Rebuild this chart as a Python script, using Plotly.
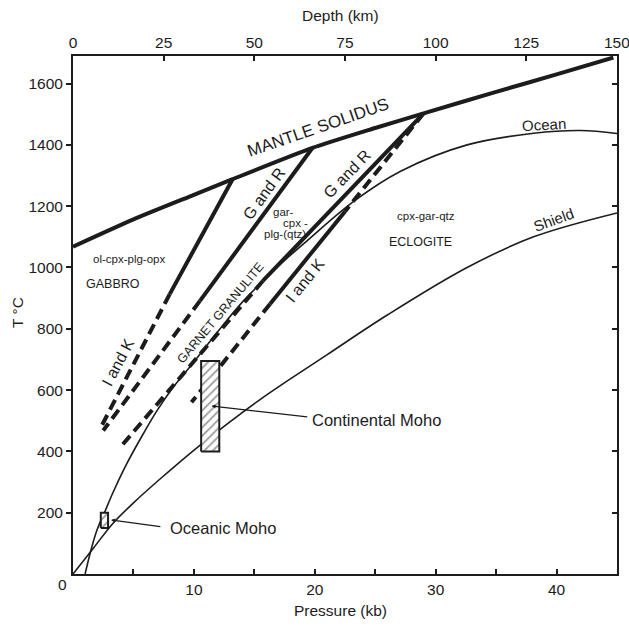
import plotly.graph_objects as go

# ---------------- data ----------------
# Mantle solidus (P kb, T degC)
sol_P = [0, 5, 10, 13.2, 19.8, 25, 29.0, 35, 40, 44.7]
sol_T = [1068, 1157, 1237, 1288, 1390, 1455, 1503, 1573, 1630, 1685]

# Oceanic geotherm
oc_P = [1.0, 1.5, 2.0, 2.6, 3.3, 4.45, 5.85, 6.95, 8.3, 10.0, 12.0, 14.1, 17.0, 19.5, 23.3, 27.1, 32.6, 38.1, 42.0, 45.0]
oc_T = [0, 80, 145, 200, 265, 360, 460, 533, 610, 692, 792, 891, 1005, 1092, 1218, 1314, 1400, 1438, 1447, 1437]

# Shield geotherm
sh_P = [0, 1.7, 3.3, 5.0, 7.2, 10.5, 15.5, 21.0, 26.0, 32.6, 38.1, 45.0]
sh_T = [0, 85, 165, 232, 310, 420, 570, 715, 845, 1000, 1100, 1178]

# Phase boundaries: solid (experimental) and dashed (extrapolated) parts
ik1_solid_P, ik1_solid_T = [13.2, 8.0], [1288, 913]
ik1_dash_P, ik1_dash_T = [8.0, 2.3], [913, 478]
gr1_solid_P, gr1_solid_T = [19.8, 10.5], [1390, 891]
gr1_dash_P, gr1_dash_T = [10.5, 2.5], [891, 468]
gr2_solid_P, gr2_solid_T = [29.0, 15.7], [1503, 956]
gr2_dash_P, gr2_dash_T = [15.7, 3.9], [956, 413]
ik2_top_P, ik2_top_T = [29.0, 22.5], [1503, 1183]
ik2_solid_P, ik2_solid_T = [22.5, 16.3], [1183, 881]
ik2_dash_P, ik2_dash_T = [16.3, 9.8], [881, 560]

# Moho boxes [Pmin, Pmax, Tmin, Tmax]
cont_moho = [10.6, 12.1, 400, 695]
ocean_moho = [2.3, 2.9, 150, 200]

# Leader lines (label end -> box)
cont_leader = [19.5, 512, 11.45, 548]
ocean_leader = [7.35, 154, 3.15, 176]

# Tick labels
x_ticks = [5, 10, 15, 20, 25, 30, 35, 40]
x_ticktext = ["", "10", "", "20", "", "30", "", "40"]
y_ticks = [200, 400, 600, 800, 1000, 1200, 1400, 1600]
depth_ticks = [0, 25, 50, 75, 100, 125, 150]

# ----------------------------------------------------------------
INK = "#1c1c1c"
FONT = "Liberation Sans, Arial, sans-serif"

fig = go.Figure()

def line(P, T, width, dash=None):
    fig.add_trace(go.Scatter(x=P, y=T, mode="lines",
                             line=dict(color=INK, width=width, dash=dash),
                             hoverinfo="skip", showlegend=False))

fig.add_trace(go.Scatter(x=sol_P, y=sol_T, mode="lines",
                         line=dict(color=INK, width=4, shape="spline", smoothing=0.6),
                         showlegend=False, hoverinfo="skip"))
fig.add_trace(go.Scatter(x=oc_P, y=oc_T, mode="lines",
                         line=dict(color=INK, width=1.6, shape="spline", smoothing=1.0),
                         showlegend=False, hoverinfo="skip"))
fig.add_trace(go.Scatter(x=sh_P, y=sh_T, mode="lines",
                         line=dict(color=INK, width=1.6, shape="spline", smoothing=1.0),
                         showlegend=False, hoverinfo="skip"))

DASH = "11px,6px"
line(ik1_solid_P, ik1_solid_T, 4)
line(ik1_dash_P, ik1_dash_T, 4, DASH)
line(gr1_solid_P, gr1_solid_T, 4)
line(gr1_dash_P, gr1_dash_T, 4, DASH)
line(gr2_solid_P, gr2_solid_T, 4)
line(gr2_dash_P, gr2_dash_T, 4, DASH)
line(ik2_top_P, ik2_top_T, 4, DASH)
line(ik2_solid_P, ik2_solid_T, 4)
line(ik2_dash_P, ik2_dash_T, 4, DASH)

for b in (cont_moho, ocean_moho):
    fig.add_trace(go.Scatter(
        x=[b[0], b[1], b[1], b[0], b[0]], y=[b[2], b[2], b[3], b[3], b[2]],
        mode="lines", fill="toself", fillcolor="rgba(0,0,0,0)",
        fillpattern=dict(shape="/", size=6, solidity=0.3, fgcolor="#333", bgcolor="white"),
        line=dict(color=INK, width=2), showlegend=False, hoverinfo="skip"))

# dummy traces for extra axes
fig.add_trace(go.Scatter(x=[0], y=[0], xaxis="x2", yaxis="y", mode="markers",
                         marker=dict(opacity=0), showlegend=False, hoverinfo="skip"))
fig.add_trace(go.Scatter(x=[0], y=[0], xaxis="x", yaxis="y3", mode="markers",
                         marker=dict(opacity=0), showlegend=False, hoverinfo="skip"))

ann = []
def txt(x, y, s, size=12, angle=0, xanchor="center"):
    ann.append(dict(x=x, y=y, xref="x", yref="y", text=s, showarrow=False,
                    textangle=angle, xanchor=xanchor, yanchor="middle",
                    font=dict(family=FONT, size=size, color=INK)))

txt(20.3, 1456, "MANTLE SOLIDUS", 17, -19)
txt(15.8, 1242, "G and R", 16, -54)
txt(22.7, 1307, "G and R", 16, -46)
txt(3.73, 689, "I and K", 16, -62)
txt(19.2, 956, "I and K", 16, -51)
txt(12.2, 852, "GARNET GRANULITE", 12.5, -50)
txt(17.4, 1180, "gar-", 11.5)
txt(18.4, 1145, "cpx -", 11.5)
txt(17.5, 1109, "plg-(qtz)", 11.5)
txt(4.64, 1028, "ol-cpx-plg-opx", 11.5)
txt(3.31, 946, "GABBRO", 12.5)
txt(29.2, 1167, "cpx-gar-qtz", 11.5)
txt(28.75, 1083, "ECLOGITE", 12.5)
txt(39.0, 1467, "Ocean", 15, -3)
txt(39.8, 1155, "Shield", 15, -20)
txt(19.6, 504, "Continental Moho", 16.5, 0, "left")
txt(7.87, 150, "Oceanic Moho", 16.5, 0, "left")

for L in (cont_leader, ocean_leader):
    ann.append(dict(x=L[2], y=L[3], ax=L[0], ay=L[1], xref="x", yref="y",
                    axref="x", ayref="y", text="", showarrow=True,
                    arrowhead=2, arrowsize=0.7, arrowwidth=1.2, arrowcolor=INK))

def ptxt(x, y, s, size=15.5, angle=0):
    ann.append(dict(x=x, y=y, xref="paper", yref="paper", text=s, showarrow=False,
                    textangle=angle, xanchor="center", yanchor="middle",
                    font=dict(family=FONT, size=size, color=INK)))

ptxt(0.491, 1.079, "Depth (km)")
ptxt(0.491, -0.0695, "Pressure (kb)")
ptxt(-0.101, 0.504, "T °C", angle=-90)
ptxt(-0.0202, -0.0212, "0")

axis_common = dict(showgrid=False, zeroline=False, showline=True, linecolor=INK,
                   linewidth=2, tickcolor=INK, tickwidth=1.5, ticklen=5,
                   automargin=False,
                   tickfont=dict(family=FONT, size=15.5, color=INK))

fig.update_layout(
    width=629, height=627,
    margin=dict(l=73, r=12, t=56, b=53, autoexpand=False),
    paper_bgcolor="white", plot_bgcolor="white",
    annotations=ann,
    xaxis=dict(range=[0, 45], tickvals=x_ticks, ticktext=x_ticktext, ticks="inside",
               **axis_common),
    xaxis2=dict(range=[0, 150.02], overlaying="x", side="top", anchor="y",
                tickvals=depth_ticks, ticks="inside", ticklabeloverflow="allow",
                **axis_common),
    yaxis=dict(range=[0, 1690], tickvals=y_ticks, ticks="outside", **axis_common),
    yaxis3=dict(range=[0, 1690], overlaying="y", side="right", anchor="x",
                tickvals=y_ticks, ticks="inside", showticklabels=False, **axis_common),
)

fig.write_html("out.html")
